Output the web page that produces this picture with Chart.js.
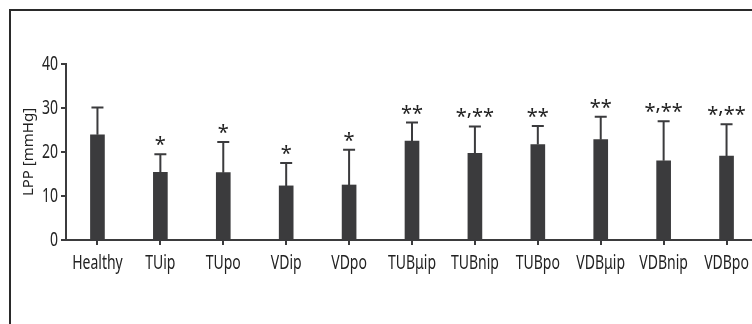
<!DOCTYPE html>
<html>
<head>
<meta charset="utf-8">
<script src="https://cdn.jsdelivr.net/npm/chart.js@4"></script>
<style>
  html, body { margin: 0; padding: 0; background: #fff; overflow: hidden; }
  body { width: 752px; height: 324px; position: relative; }
  #frame { position: absolute; left: 9px; top: 9px; width: 800px; height: 400px;
           border-top: 2px solid #2a2a2a; border-left: 2px solid #2a2a2a; }
  #wrap { position: absolute; left: 0; top: 0; width: 770px; height: 324px; }
</style>
</head>
<body>
<div id="frame"></div>
<div id="wrap"><canvas id="c" width="770" height="324"></canvas></div>
<script>
// Lower pericardial pressure per group: mean and upper SD
const groups = ['Healthy', 'TUip', 'TUpo', 'VDip', 'VDpo', 'TUBμip', 'TUBnip', 'TUBpo', 'VDBμip', 'VDBnip', 'VDBpo'];
const meanLPP = [23.9, 15.4, 15.3, 12.3, 12.5, 22.5, 19.7, 21.7, 22.8, 18.0, 19.1];
const sdLPP   = [6.2, 4.1, 7.0, 5.2, 8.0, 4.2, 6.1, 4.2, 5.2, 9.0, 7.2];
const marks   = ['', '*', '*', '*', '*', '**', '*,**', '**', '**', '*,**', '*,**'];
const yTicks  = [0, 10, 20, 30, 40];
const yTitle  = 'LPP [mmHg]';

const FONT = "'Noto Sans', 'Open Sans', sans-serif";
const INK = '#3b3b3d';
const TEXT = '#222';
const SQUEEZE = 0.7;   // condensed lettering for the axis labels

const canvas = document.getElementById('c');
const ctx2d = canvas.getContext('2d');
// Axis labels are drawn horizontally condensed around their own anchor point
const nativeFillText = CanvasRenderingContext2D.prototype.fillText;
ctx2d.fillText = function (text, x, y) {
  this.save();
  this.translate(x, y);
  this.scale(SQUEEZE, 1);
  nativeFillText.call(this, text, 0, 0);
  this.restore();
};

// Significance mark: asterisks on the baseline, commas lifted to their level
function drawMark(ctx, text, cx, base) {
  ctx.font = '20px ' + FONT;
  ctx.textAlign = 'left';
  ctx.textBaseline = 'alphabetic';
  const total = [...text].reduce((w, ch) => w + ctx.measureText(ch).width, 0);
  let x = cx - total / 2;
  for (const ch of text) {
    nativeFillText.call(ctx, ch, x, ch === ',' ? base - 8 : base);
    x += ctx.measureText(ch).width;
  }
}

// Upper error whiskers, significance marks and the y-axis caption
const errorBars = {
  id: 'errorBars',
  afterDatasetsDraw(chart) {
    const { ctx, scales: { x, y } } = chart;
    ctx.save();
    meanLPP.forEach((m, i) => {
      const cx = x.getPixelForValue(i);
      const yTop = y.getPixelForValue(m + sdLPP[i]);
      const yBar = y.getPixelForValue(m);
      ctx.strokeStyle = INK;
      ctx.lineWidth = 2;
      ctx.beginPath();
      ctx.moveTo(cx, yBar);
      ctx.lineTo(cx, yTop);
      ctx.moveTo(cx - 6, yTop);
      ctx.lineTo(cx + 6, yTop);
      ctx.stroke();
      if (marks[i]) {
        ctx.fillStyle = TEXT;
        drawMark(ctx, marks[i], cx, yTop - 3);
      }
    });
    ctx.translate(33, (chart.chartArea.top + chart.chartArea.bottom) / 2);
    ctx.rotate(-Math.PI / 2);
    ctx.fillStyle = TEXT;
    ctx.font = '15px ' + FONT;
    ctx.textAlign = 'center';
    ctx.textBaseline = 'alphabetic';
    nativeFillText.call(ctx, yTitle, 0, 0);
    ctx.restore();
  }
};

new Chart(canvas, {
  type: 'bar',
  data: {
    labels: groups,
    datasets: [{
      data: meanLPP,
      backgroundColor: INK,
      borderWidth: 0,
      barThickness: 14
    }]
  },
  options: {
    responsive: false,
    animation: false,
    layout: { padding: { left: 0, top: 64, right: 12, bottom: 0 } },
    plugins: { legend: { display: false }, tooltip: { enabled: false } },
    scales: {
      x: {
        offset: true,
        grid: { display: true, offset: false, drawOnChartArea: false, drawTicks: true, tickLength: 5, color: INK, lineWidth: 2 },
        border: { display: true, color: INK, width: 2 },
        ticks: { color: TEXT, font: { family: FONT, size: 20 }, padding: 6, maxRotation: 0, autoSkip: false },
        afterFit(s) { s.height = 84; }
      },
      y: {
        min: 0, max: 40,
        afterBuildTicks(s) { s.ticks = yTicks.map(v => ({ value: v })); },
        grid: { display: true, drawOnChartArea: false, drawTicks: true, tickLength: 5, color: INK, lineWidth: 2 },
        border: { display: true, color: INK, width: 2 },
        ticks: { color: TEXT, font: { family: FONT, size: 20 }, padding: 3 },
        afterFit(s) { s.width = 66; }
      }
    }
  },
  plugins: [errorBars]
});
</script>
</body>
</html>
